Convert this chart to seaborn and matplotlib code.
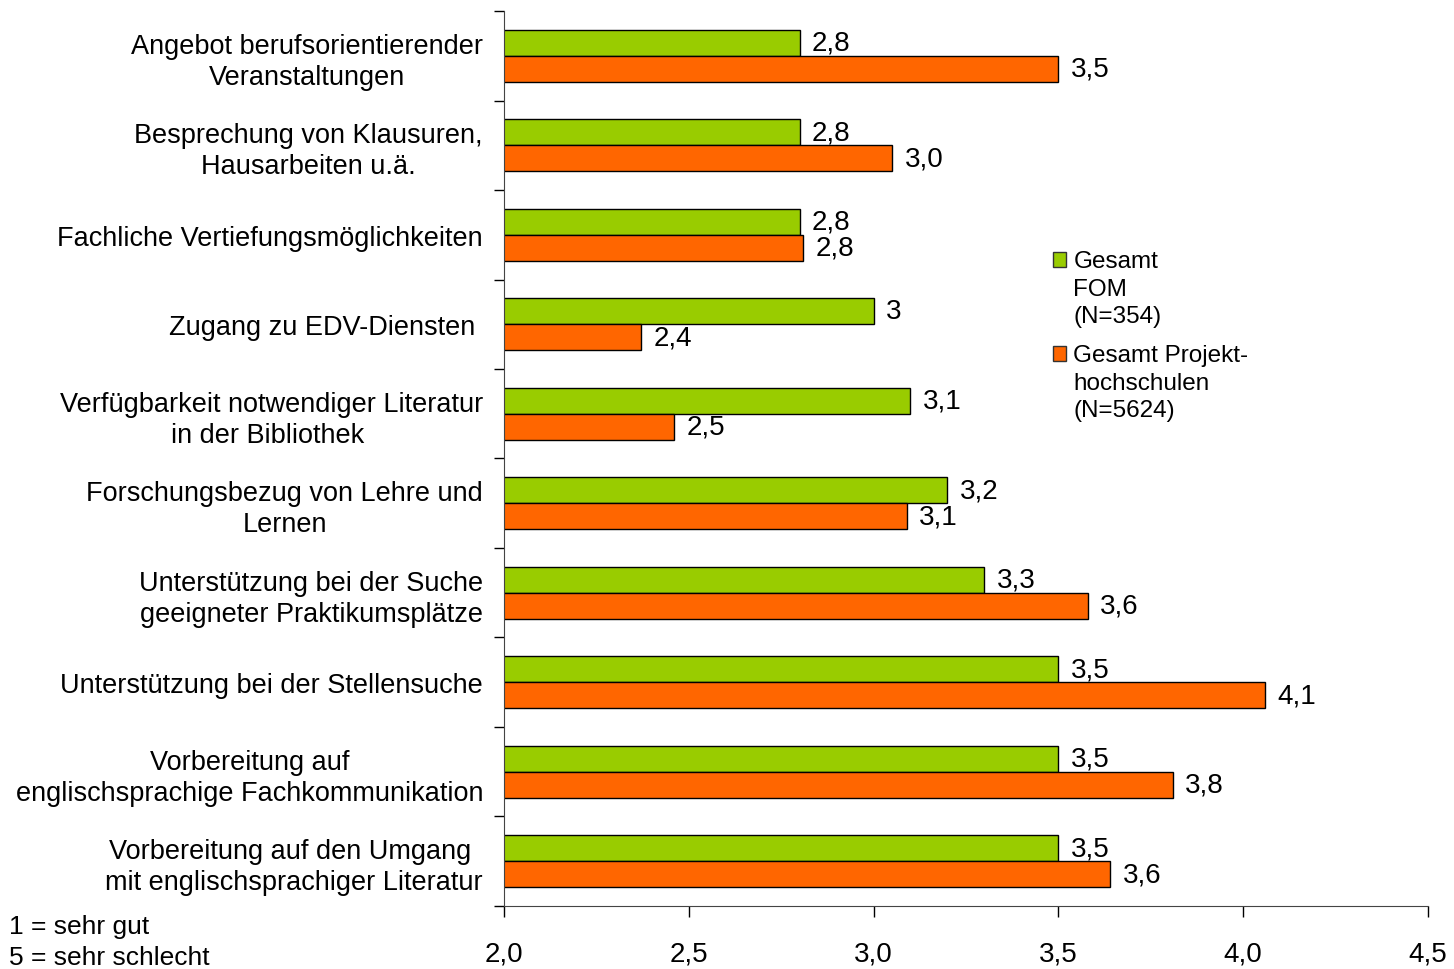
import pandas as pd
import matplotlib.pyplot as plt
import seaborn as sns
from matplotlib.patches import Patch, Rectangle
from matplotlib.legend_handler import HandlerPatch

# categories (top to bottom)
categories = [
    "Angebot berufsorientierender\nVeranstaltungen",
    "Besprechung von Klausuren,\nHausarbeiten u.ä.",
    "Fachliche Vertiefungsmöglichkeiten",
    "Zugang zu EDV-Diensten ",
    "Verfügbarkeit notwendiger Literatur\nin der Bibliothek ",
    "Forschungsbezug von Lehre und\nLernen",
    "Unterstützung bei der Suche\ngeeigneter Praktikumsplätze",
    "Unterstützung bei der Stellensuche",
    "Vorbereitung auf\nenglischsprachige Fachkommunikation",
    "Vorbereitung auf den Umgang \nmit englischsprachiger Literatur",
]
groups = ["Gesamt\nFOM\n(N=354)", "Gesamt Projekt-\nhochschulen\n(N=5624)"]

# bar lengths
fom_values = [2.80, 2.80, 2.80, 3.00, 3.10, 3.20, 3.30, 3.50, 3.50, 3.50]
projekt_values = [3.50, 3.05, 2.81, 2.37, 2.46, 3.09, 3.58, 4.06, 3.81, 3.64]
# printed labels
fom_labels = ["2,8", "2,8", "2,8", "3", "3,1", "3,2", "3,3", "3,5", "3,5", "3,5"]
projekt_labels = ["3,5", "3,0", "2,8", "2,4", "2,5", "3,1", "3,6", "4,1", "3,8", "3,6"]

x_ticks = [2.0, 2.5, 3.0, 3.5, 4.0, 4.5]

df = pd.DataFrame({
    "Kategorie": categories * 2,
    "Gruppe": [groups[0]] * len(categories) + [groups[1]] * len(categories),
    "Wert": fom_values + projekt_values,
})

plt.rcParams["font.family"] = ["Liberation Sans", "DejaVu Sans"]

fig = plt.figure(figsize=(14.54, 9.7), dpi=100)
ax = fig.add_axes([0.3466, 0.065, 0.982 - 0.3466, 0.9876 - 0.065])

sns.barplot(data=df, y="Kategorie", x="Wert", hue="Gruppe", orient="h",
            palette=["#99CC00", "#FF6600"], width=0.58, edgecolor="black",
            linewidth=1, saturation=1, legend=False, ax=ax, errorbar=None)

ax.bar_label(ax.containers[0], labels=fom_labels, padding=9, fontsize=20)
ax.bar_label(ax.containers[1], labels=projekt_labels, padding=9, fontsize=20)

ax.set_xlim(2.0, 4.5)
ax.set_ylim(len(categories) - 0.5, -0.5)
ax.set_xticks(x_ticks)
ax.set_xticklabels([f"{t:.1f}".replace(".", ",") for t in x_ticks], fontsize=20)
ax.tick_params(axis="x", length=8, width=1, pad=17, direction="out")
ax.tick_params(axis="y", which="major", length=0, pad=15, labelsize=19.5)
ax.set_yticks([i + 0.5 for i in range(-1, len(categories))], minor=True)
ax.tick_params(axis="y", which="minor", length=7, width=1, direction="out")
for lab in ax.get_yticklabels():
    lab.set_multialignment("center")
    lab.set_linespacing(1.24)

ax.set_xlabel("")
ax.set_ylabel("")
for s in ["top", "right"]:
    ax.spines[s].set_visible(False)
ax.spines["left"].set_color("#444444")
ax.spines["bottom"].set_color("#444444")


# legend: square next to the first line of each entry
def top_square(legend, orig_handle, xdescent, ydescent, width, height, fontsize):
    return Rectangle((-xdescent, -ydescent + 21), width, height)


handles = [Patch(facecolor="#99CC00", edgecolor="#333333"),
           Patch(facecolor="#FF6600", edgecolor="#333333")]
leg = fig.legend(handles, groups, loc="upper left", bbox_to_anchor=(0.724, 0.741),
                 frameon=False, fontsize=17.5, handlelength=0.55, handleheight=0.55,
                 handletextpad=0.3, labelspacing=0.68, borderaxespad=0, borderpad=0,
                 handler_map={Patch: HandlerPatch(patch_func=top_square)})
for t in leg.get_texts():
    t.set_linespacing(1.33)

fig.text(0.006, 0.057, "1 = sehr gut\n5 = sehr schlecht", fontsize=19,
         va="top", ha="left", linespacing=1.36)

plt.savefig("out.png", dpi=100)
